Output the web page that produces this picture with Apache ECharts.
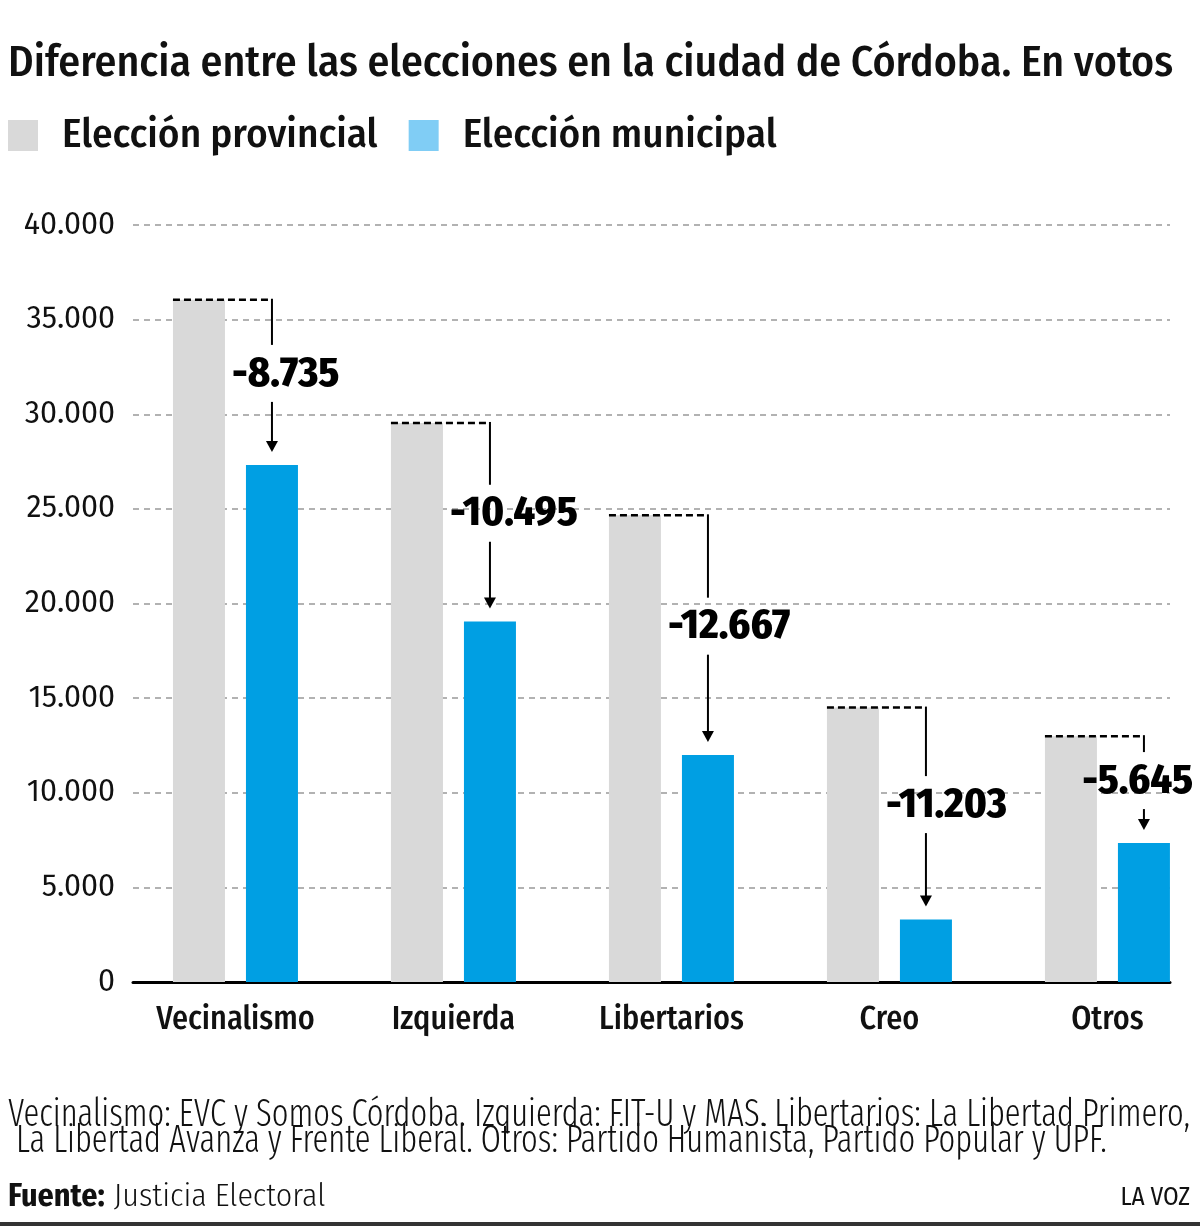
<!DOCTYPE html>
<html><head><meta charset="utf-8">
<script src="https://cdn.jsdelivr.net/npm/echarts@6/dist/echarts.min.js"></script>
<style>html,body{margin:0;padding:0;background:#fff}#chart{width:1200px;height:1226px}</style>
</head><body><div id="chart"></div>
<script>
// ---- data ----
const categories = ['Vecinalismo', 'Izquierda', 'Libertarios', 'Creo', 'Otros'];
const provincial = [36050, 29540, 24660, 14500, 12990];
const municipal  = [27315, 19045, 11993, 3297, 7345];
const seriesNames = ['Elección provincial', 'Elección municipal'];
const titleText = 'Diferencia entre las elecciones en la ciudad de Córdoba. En votos';
const noteLines = [
  'Vecinalismo: EVC y Somos Córdoba. Izquierda: FIT-U y MAS. Libertarios: La Libertad Primero,',
  ' La Libertad Avanza y Frente Liberal. Otros: Partido Humanista, Partido Popular y UPF.'
];
const sourceLabel = 'Fuente:';
const sourceText = 'Justicia Electoral';
const brand = 'LA VOZ';

// ---- style ----
const FONT = '"Fira Sans Condensed", "Roboto Condensed", sans-serif';
const FONT_WIDE = '"Fira Sans", "Fira Sans Condensed", sans-serif';
const FONT_XC = '"Fira Sans Extra Condensed", "Fira Sans Condensed", sans-serif';
const GRAY = '#d9d9d9', BLUE = '#009fe3', LEGEND_BLUE = '#80cdf5';
const BAR_W = 52, GAP = 21;
const Y_MIN = 0, Y_MAX = 40000, Y_STEP = 5000;
// the category positions run 0..4; the plotted frame is asymmetric around them
const X_MIN = -0.47, X_MAX = 4.287;
const ANN_FONT = '800 42px ' + FONT;

function fmt(v) { return String(Math.abs(v)).replace(/\B(?=(\d{3})+(?!\d))/g, '.'); }

const measureCtx = document.createElement('canvas').getContext('2d');
function textWidth(text, font) { measureCtx.font = font; return measureCtx.measureText(text).width; }
function fitScale(text, font, target) {
  const w = textWidth(text, font);
  return w > 0 ? target / w : 1;
}

const chart = echarts.init(document.getElementById('chart'), null, { renderer: 'canvas' });

const catIdx = categories.map((c, i) => i);
const provData = provincial.map((v, i) => [i, v]);
const muniData = municipal.map((v, i) => [i, v]);
const annData = categories.map((c, i) => [i, provincial[i], municipal[i]]);

function renderAnn(params, api) {
  const i = api.value(0);
  const p = api.coord([i, api.value(1)]);
  const q = api.coord([i, api.value(2)]);
  const cx = p[0];
  const xL = cx - GAP / 2 - BAR_W;
  const xV = cx + GAP / 2 + BAR_W / 2;
  const yP = p[1];
  const tip = q[1] - 13;
  const mid = (yP + tip) / 2;
  const diff = api.value(2) - api.value(1);
  const label = '-' + fmt(diff);
  const w = textWidth(label, ANN_FONT);
  const tx = Math.min(xV - 40, api.getWidth() - 7 - w);
  const lineStyle = { stroke: '#000', lineWidth: 2 };
  return {
    type: 'group',
    children: [
      { type: 'line', shape: { x1: xL, y1: yP, x2: xV, y2: yP }, style: { stroke: '#000', lineWidth: 2.5, lineDash: [7, 4] } },
      { type: 'line', shape: { x1: xV, y1: yP - 1, x2: xV, y2: mid - 31 }, style: lineStyle },
      { type: 'line', shape: { x1: xV, y1: mid + 26, x2: xV, y2: tip - 8 }, style: lineStyle },
      { type: 'polygon', shape: { points: [[xV - 6, tip - 11], [xV + 6, tip - 11], [xV, tip]] }, style: { fill: '#000' } },
      { type: 'text', x: tx, y: mid - 2, style: {
          text: label, fill: '#000', font: ANN_FONT,
          textAlign: 'left', textVerticalAlign: 'middle' } }
    ]
  };
}

const noteFont = '300 39px ' + FONT_XC;
const note1Scale = fitScale(noteLines[0], noteFont, 1182);

const option = {
  animation: false,
  backgroundColor: '#fff',
  title: {
    text: titleText, left: 3, top: 36,
    textStyle: { fontFamily: FONT, fontWeight: 500, fontSize: 43.6, color: '#111', lineHeight: 46 }
  },
  legend: {
    left: 8, top: 115, padding: 0, itemWidth: 30, itemHeight: 31, itemGap: 31, icon: 'rect',
    data: [
      { name: seriesNames[0], itemStyle: { color: GRAY } },
      { name: seriesNames[1], itemStyle: { color: LEGEND_BLUE } }
    ],
    textStyle: { fontFamily: FONT, fontWeight: 500, fontSize: 41, lineHeight: 31, color: '#111', padding: [0, 0, 0, 19] }
  },
  grid: { left: 133, right: 30, top: 225, bottom: 244, containLabel: false },
  xAxis: {
    type: 'value', min: X_MIN, max: X_MAX,
    axisLine: { show: true, onZero: false, lineStyle: { color: '#000', width: 3 } },
    axisTick: { show: false },
    splitLine: { show: false },
    axisLabel: { customValues: catIdx, formatter: v => categories[Math.round(v)] || '',
      fontFamily: FONT, fontWeight: 500, fontSize: 32, color: '#111', margin: 22 }
  },
  yAxis: {
    type: 'value', min: Y_MIN, max: Y_MAX, interval: Y_STEP,
    axisLine: { show: false }, axisTick: { show: false },
    axisLabel: { fontFamily: FONT_WIDE, fontWeight: 400, fontSize: 30.5, color: '#111', margin: 18,
      formatter: v => fmt(v) },
    splitLine: { lineStyle: { color: '#999', width: 1.5, type: [6, 5] } }
  },
  series: [
    { name: seriesNames[0], type: 'bar', data: provData,
      barWidth: BAR_W, barGap: (GAP / BAR_W * 100) + '%', itemStyle: { color: GRAY }, z: 2 },
    { name: seriesNames[1], type: 'bar', data: muniData,
      barWidth: BAR_W, itemStyle: { color: BLUE }, z: 2 },
    { type: 'custom', data: annData, renderItem: renderAnn, z: 5, silent: true,
      encode: { x: 0, y: [1, 2] } }
  ],
  graphic: [
    { type: 'text', left: 8, top: 1096, scaleX: note1Scale, originX: 0,
      style: { text: noteLines.join('\n'), font: noteFont, fill: '#111', lineHeight: 26 } },
    { type: 'text', left: 8, top: 1181,
      style: { text: '{b|' + sourceLabel + '}{l|' + sourceText + '}',
        rich: { b: { fontFamily: FONT, fontWeight: 700, fontSize: 32, fill: '#111', padding: [0, 9, 0, 0] },
                l: { fontFamily: FONT, fontWeight: 300, fontSize: 32, fill: '#111' } } } },
    { type: 'text', right: 10, top: 1186,
      style: { text: brand, font: '400 25px ' + FONT, fill: '#111' } },
    { type: 'rect', left: 0, top: 1222, shape: { width: 1200, height: 4 }, style: { fill: '#333' } }
  ]
};
chart.setOption(option);
</script></body></html>
